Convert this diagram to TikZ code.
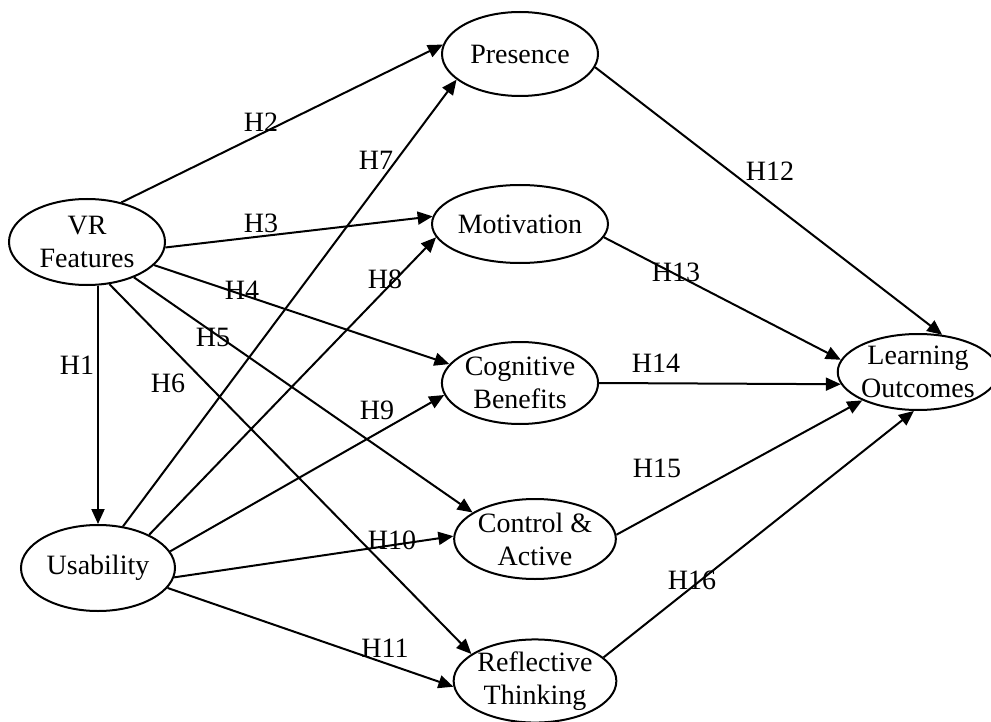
\documentclass[tikz,border=0pt]{standalone}
\usepackage{fontspec}
\setmainfont{Liberation Serif}
\usetikzlibrary{shapes.geometric,arrows.meta}
\tikzset{construct/.style={ellipse,draw,line width=1pt,inner sep=0pt,align=center},
         hyp/.style={inner sep=0pt}}
\begin{document}
\begin{tikzpicture}[x=0.5pt,y=-0.5pt,line width=1pt,>={Triangle[length=7.5pt,width=6.5pt]},
        font=\fontsize{14}{16.5}\selectfont]
            \useasboundingbox (0,0) rectangle (991,722);
            \node[construct,minimum width=78pt,minimum height=43pt] (vr) at (87,242) {VR\\Features};
            \node[construct,minimum width=77pt,minimum height=43pt] (us) at (98,568) {Usability};
            \node[construct,minimum width=78pt,minimum height=42pt] (pr) at (520,54) {Presence};
            \node[construct,minimum width=78pt,minimum height=39pt] (mo) at (520,224) {Motivation};
            \node[construct,minimum width=78pt,minimum height=41pt] (cb) at (520,383) {Cognitive\\Benefits};
            \node[construct,minimum width=78pt,minimum height=40pt] (ca) at (535,539) {Control \&\\Active};
            \node[construct,minimum width=78pt,minimum height=40pt] (rt) at (535,681) {Reflective\\Thinking};
            \node[construct,minimum width=72pt,minimum height=38pt] (lo) at (918,372) {Learning\\Outcomes};
            % VR features
            \draw[->] (us.north |- vr.south) -- (us.north);
            \draw[->] (vr.49) -- (pr.173);
            \draw[->] (vr.-4) -- (mo.175.5);
            \draw[->] (vr.-19) -- (cb.165);
            \draw[->] (vr.-37.6) -- (ca.157.4);
            \draw[->] (vr.-62) -- (rt.157);
            % usability
            \draw[->] (us.59) -- (pr.-158);
            \draw[->] (us.33) -- (mo.189.5);
            \draw[->] (us.13) -- (cb.189);
            \draw[->] (us.-7) -- (ca.178.5);
            \draw[->] (us.-16) -- (rt.184.5);
            % learning outcomes
            \draw[->] (pr.-10) -- (lo.57);
            \draw[->] (mo.-9) -- (lo.171);
            \draw[->] (cb.0) -- (lo.189);
            \draw[->] (ca.3) -- (lo.207.5);
            \draw[->] (rt.19.5) -- (lo.-96);
            \node[hyp] (h1) at (77,365) {H1};
            \node[hyp] (h2) at (261,122) {H2};
            \node[hyp] (h3) at (261,223) {H3};
            \node[hyp] (h4) at (242,290) {H4};
            \node[hyp] (h5) at (213,337) {H5};
            \node[hyp] (h6) at (168,383) {H6};
            \node[hyp] (h7) at (376,160) {H7};
            \node[hyp] (h8) at (385,279) {H8};
            \node[hyp] (h9) at (377,410) {H9};
            \node[hyp] (h10) at (392,540) {H10};
            \node[hyp] (h11) at (385,648) {H11};
            \node[hyp] (h12) at (770,171) {H12};
            \node[hyp] (h13) at (676,272) {H13};
            \node[hyp] (h14) at (656,363) {H14};
            \node[hyp] (h15) at (657,468) {H15};
            \node[hyp] (h16) at (692,580) {H16};
        \end{tikzpicture}
\end{document}
